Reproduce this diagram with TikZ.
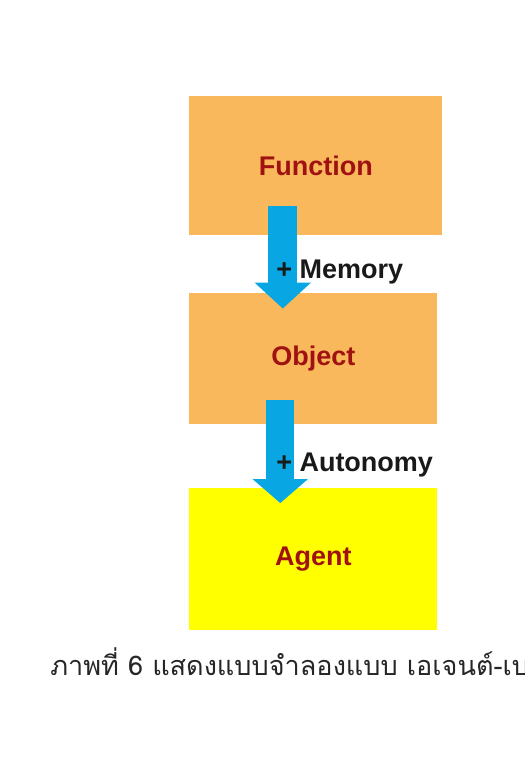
\documentclass[tikz,border=0pt]{standalone}
\usepackage{fontspec}
\setmainfont{Liberation Sans}
\newfontfamily\thaifont[Script=Thai]{Loma}
\usetikzlibrary{arrows.meta}
\usetikzlibrary{positioning}

\definecolor{boxorange}{RGB}{250,184,92}
\definecolor{boxyellow}{RGB}{255,255,0}
\definecolor{flowblue}{RGB}{8,166,226}
\definecolor{darkred}{RGB}{160,18,18}

\begin{document}
\begin{tikzpicture}[x=0.75pt, y=-0.75pt,
        level/.style={rectangle, inner sep=0pt, minimum width=186pt,
            text=darkred, font=\fontsize{20.25pt}{24pt}\selectfont\bfseries},
        flow/.style={draw=flowblue, line width=#1},
        label/.style={anchor=base west, inner sep=0pt, text=black!90,
            font=\fontsize{20.25pt}{24pt}\selectfont\bfseries}]
        \useasboundingbox (0,0) rectangle (525,758);

        % the three levels, top to bottom
        \node[level, fill=boxorange, minimum width=189.75pt, minimum height=104.25pt,
            anchor=north west] (func) at (189,96) {Function};
        \node[level, fill=boxorange, minimum height=98.25pt,
            below=42.75pt of func.south west, anchor=north west] (obj) {Object};
        \node[level, fill=boxyellow, minimum height=106.5pt,
            below=48pt of obj.south west, anchor=north west] (agent) {Agent};

        % block arrows between the levels
        \draw[flow=21.75pt, -{Triangle[width=41.25pt, length=19.5pt]}]
            ([shift={(-33,-30)}]func.south) -- ([shift={(-30.5,16)}]obj.north);
        \draw[flow=21pt, -{Triangle[width=40.5pt, length=18pt]}]
            ([shift={(-33,-24)}]obj.south) -- ([shift={(-33,15)}]agent.north);

        \node[label] (mem) at (276,278) {+ Memory};
        \node[label] (auto) at (276,471) {+ Autonomy};

        \node[anchor=base west, inner sep=0pt, text=black!85,
            font=\thaifont\fontsize{20.3pt}{24pt}\selectfont] (cap) at (50,675)
            {ภาพที่ 6 แสดงแบบจำลองแบบ เอเจนต์-เบ};
\end{tikzpicture}
\end{document}
